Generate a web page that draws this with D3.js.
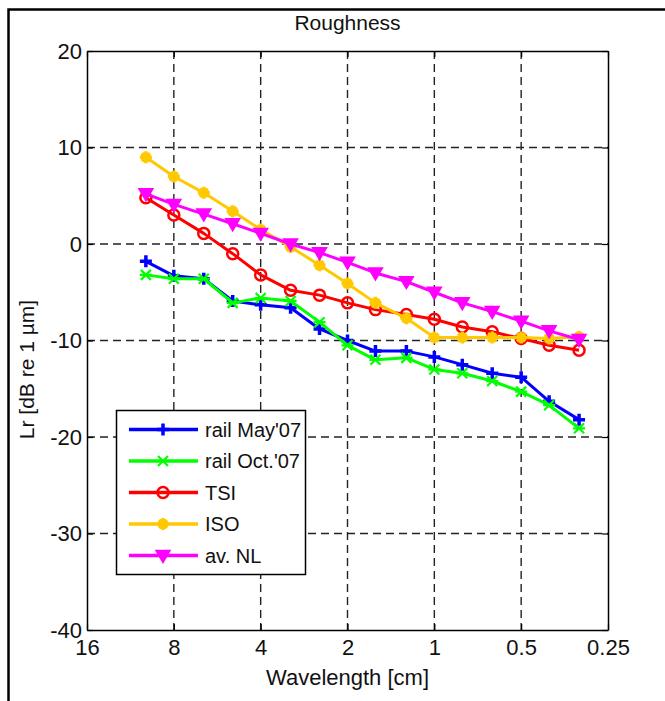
<!DOCTYPE html>
<html>
<head>
<meta charset="utf-8">
<script src="https://cdn.jsdelivr.net/npm/d3@7"></script>
<style>
  html, body { margin: 0; padding: 0; background: #fff; }
  svg { display: block; font-family: "Liberation Sans", Arial, sans-serif; }
</style>
</head>
<body>
<svg id="chart" width="665" height="701"></svg>
<script>
// Third-octave wavelength bands (cm)
const wavelengths = [10, 8, 6.3, 5, 4, 3.15, 2.5, 2, 1.6, 1.25, 1, 0.8, 0.63, 0.5, 0.4, 0.315];

// Roughness level Lr, dB re 1 µm
const railMay07 = [-1.8, -3.3, -3.6, -5.9, -6.3, -6.6, -8.8, -10.0, -11.1, -11.1, -11.7, -12.5, -13.4, -13.8, -16.3, -18.2];
const railOct07 = [-3.2, -3.6, -3.6, -6.1, -5.6, -5.9, -8.1, -10.5, -12.0, -11.8, -13.0, -13.4, -14.2, -15.3, -16.7, -19.1];
const tsi       = [4.8, 3.0, 1.1, -1.0, -3.2, -4.8, -5.3, -6.1, -6.8, -7.3, -7.8, -8.6, -9.1, -9.8, -10.5, -11.0];
const iso       = [9.0, 7.0, 5.3, 3.4, 1.5, -0.3, -2.2, -4.1, -6.1, -7.7, -9.7, -9.7, -9.7, -9.7, -9.8, -9.6];
const avNL      = [5.2, 4.1, 3.1, 2.1, 1.1, 0.0, -0.9, -1.9, -3.0, -3.9, -5.0, -6.1, -7.0, -8.0, -9.0, -9.9];

const xTicks = [16, 8, 4, 2, 1, 0.5, 0.25];
const xTickLabels = ["16", "8", "4", "2", "1", "0.5", "0.25"];
const yTicks = [20, 10, 0, -10, -20, -30, -40];

const seriesNames = ["rail May'07", "rail Oct.'07", "TSI", "ISO", "av. NL"];
const seriesValues = [railMay07, railOct07, tsi, iso, avNL];
const seriesColors = ["#0000ff", "#00ff00", "#ff0000", "#ffc800", "#ff00ff"];
const seriesMarkers = ["plus", "asterisk", "circle", "star", "triangleDown"];

const svg = d3.select("#chart");
const plotLeft = 87, plotRight = 608, plotTop = 51, plotBottom = 630;

const x = d3.scaleLog().base(2).domain([16, 0.25]).range([plotLeft, plotRight]);
const y = d3.scaleLinear().domain([-40, 20]).range([plotBottom, plotTop]);

// Figure frame (left and top edges)
svg.append("path")
  .attr("d", "M8.5,701 L8.5,9.5 L665,9.5")
  .attr("fill", "none").attr("stroke", "#000").attr("stroke-width", 2.5);

// Dashed grid
const grid = svg.append("g").attr("stroke", "#222").attr("stroke-width", 1.4)
  .attr("stroke-dasharray", "8,5");
grid.selectAll("line.gx").data(xTicks.slice(1, -1)).join("line")
  .attr("x1", d => x(d)).attr("x2", d => x(d)).attr("y1", plotTop).attr("y2", plotBottom);
grid.selectAll("line.gy").data(yTicks.slice(1, -1)).join("line")
  .attr("x1", plotLeft).attr("x2", plotRight).attr("y1", d => y(d)).attr("y2", d => y(d));

// Axes with inward ticks
const axisStyle = g => {
  g.selectAll("path.domain").attr("stroke", "#000").attr("stroke-width", 1.5);
  g.selectAll(".tick line").attr("stroke", "#000").attr("stroke-width", 1.2);
  g.selectAll(".tick text").attr("fill", "#111").attr("font-size", 22)
    .attr("font-family", "'Liberation Sans', Arial, sans-serif");
};
svg.append("g").attr("transform", `translate(0,${plotBottom})`)
  .call(d3.axisBottom(x).tickValues(xTicks).tickFormat((d, i) => xTickLabels[i])
    .tickSizeInner(-6).tickSizeOuter(0).tickPadding(9))
  .call(axisStyle);
svg.append("g").attr("transform", `translate(0,${plotTop})`)
  .call(d3.axisTop(x).tickValues(xTicks).tickFormat("").tickSizeInner(-6).tickSizeOuter(0))
  .call(axisStyle);
svg.append("g").attr("transform", `translate(${plotLeft},0)`)
  .call(d3.axisLeft(y).tickValues(yTicks).tickFormat(d => String(d))
    .tickSizeInner(-6).tickSizeOuter(0).tickPadding(5))
  .call(axisStyle);
svg.append("g").attr("transform", `translate(${plotRight},0)`)
  .call(d3.axisRight(y).tickValues(yTicks).tickFormat("").tickSizeInner(-6).tickSizeOuter(0))
  .call(axisStyle);

// Titles
svg.append("text").attr("x", (plotLeft + plotRight) / 2).attr("y", 30)
  .attr("text-anchor", "middle").attr("font-size", 21).attr("fill", "#111").text("Roughness");
svg.append("text").attr("x", (plotLeft + plotRight) / 2).attr("y", 685)
  .attr("text-anchor", "middle").attr("font-size", 22).attr("fill", "#111").text("Wavelength [cm]");
svg.append("text").attr("transform", `translate(34,${(plotTop + plotBottom) / 2 + 29}) rotate(-90)`)
  .attr("text-anchor", "middle").attr("font-size", 21).attr("fill", "#111").text("Lr [dB re 1 \u00b5m]");

// Marker drawing
function drawMarker(g, type, color) {
  if (type === "plus") {
    g.append("path").attr("d", "M-6,0H6M0,-6V6")
      .attr("stroke", color).attr("stroke-width", 3.5).attr("fill", "none");
  } else if (type === "asterisk") {
    g.append("path").attr("d", "M-5,-5L5,5M-5,5L5,-5M-6,0H6")
      .attr("stroke", color).attr("stroke-width", 2.2).attr("fill", "none");
  } else if (type === "circle") {
    g.append("circle").attr("r", 5.5)
      .attr("stroke", color).attr("stroke-width", 2.5).attr("fill", "none");
  } else if (type === "star") {
    g.append("path").attr("d", "M-6,0H6M0,-6V6M-4,-4L4,4M-4,4L4,-4")
      .attr("stroke", color).attr("stroke-width", 3.5).attr("fill", "none");
  } else if (type === "triangleDown") {
    g.append("path").attr("d", "M-7,-5L7,-5L0,7Z")
      .attr("stroke", color).attr("stroke-width", 1.5).attr("fill", color);
  }
}

const line = d3.line().x(d => x(d[0])).y(d => y(d[1]));

seriesValues.forEach((vals, i) => {
  const pts = wavelengths.map((w, j) => [w, vals[j]]);
  const g = svg.append("g");
  g.append("path").datum(pts).attr("d", line)
    .attr("fill", "none").attr("stroke", seriesColors[i]).attr("stroke-width", 3)
    .attr("stroke-linejoin", "round");
  g.selectAll("g.m").data(pts).join("g")
    .attr("transform", d => `translate(${x(d[0])},${y(d[1])})`)
    .each(function () { drawMarker(d3.select(this), seriesMarkers[i], seriesColors[i]); });
});

// Legend
const lg = svg.append("g");
lg.append("rect").attr("x", 116.5).attr("y", 410.5).attr("width", 189).attr("height", 164)
  .attr("fill", "#fff").attr("stroke", "#000").attr("stroke-width", 1.5);
seriesNames.forEach((name, i) => {
  const yy = 429.5 + i * 31.5;
  const row = lg.append("g");
  row.append("line").attr("x1", 129).attr("x2", 198).attr("y1", yy).attr("y2", yy)
    .attr("stroke", seriesColors[i]).attr("stroke-width", 3.5);
  drawMarker(row.append("g").attr("transform", `translate(163,${yy})`), seriesMarkers[i], seriesColors[i]);
  row.append("text").attr("x", 205).attr("y", yy + 7).attr("font-size", 20)
    .attr("fill", "#111").text(name);
});
</script>
</body>
</html>
